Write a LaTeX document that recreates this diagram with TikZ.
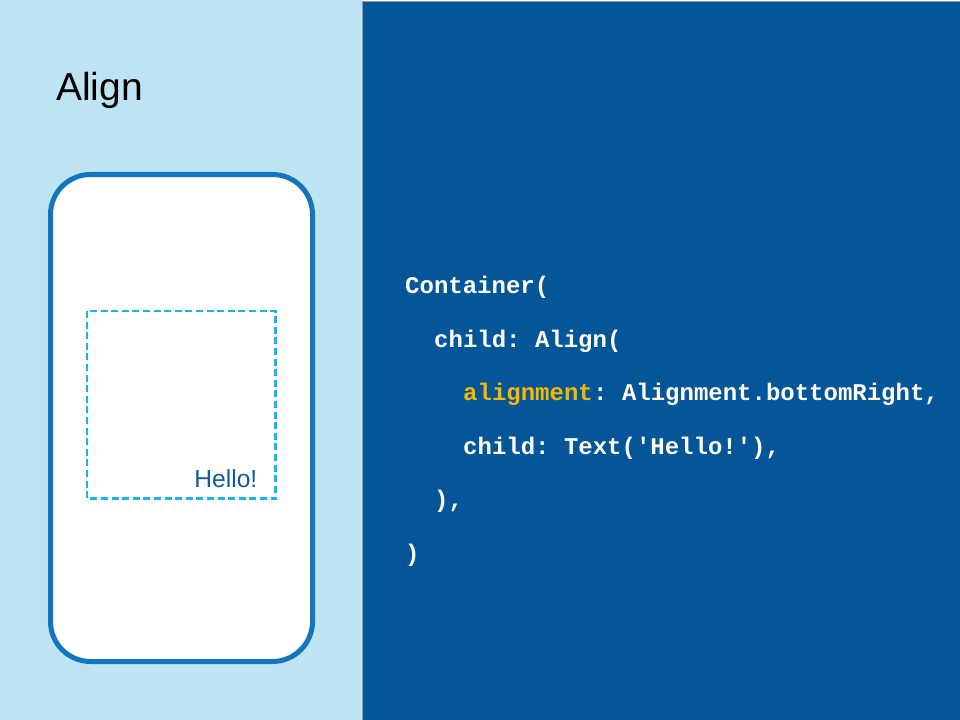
\documentclass[tikz,border=0pt]{standalone}
\usepackage{fontspec}
\setmainfont{Liberation Sans}
\setmonofont{Liberation Mono}
\usepackage{tikz}
\usetikzlibrary{positioning}
\definecolor{alignsky}{HTML}{BEE3F2}
\definecolor{aligndeep}{HTML}{045698}
\definecolor{alignphone}{HTML}{1276BF}
\definecolor{aligncyan}{HTML}{12B7F0}
\definecolor{alignhello}{HTML}{0D5CA0}
\definecolor{alignyellow}{HTML}{F5B800}
\definecolor{alignedge}{HTML}{8A9BA8}

\tikzset{
  codeline/.style={font=\fontsize{24bp}{28bp}\selectfont\ttfamily\bfseries, text=white,
    anchor=base west, inner sep=0pt},
}

\begin{document}
\begin{tikzpicture}[x=1bp, y=-1bp]
      \useasboundingbox (0,0) rectangle (960,720);
      % two panels
      \fill[alignsky] (0,0) rectangle (362,720);
      \fill[aligndeep] (362,1) rectangle (960,720);
      \draw[alignedge, line width=0.8bp] (362.4,1) -- (362.4,720) (362,1.2) -- (960,1.2);
      \node[font=\fontsize{39bp}{44bp}\selectfont, anchor=base west, inner sep=0pt] (title) at (56,101) {Align};
      % phone and aligned child
      \draw[alignphone, fill=white, line width=5bp, rounded corners=40bp]
            (50.5,174.5) rectangle (312.5,661.5);
      \draw[aligncyan, line width=2.6bp, dash pattern=on 7bp off 3.6bp]
            (87,311) rectangle (275.5,498.5);
      \node[font=\fontsize{24.6bp}{28bp}\selectfont, text=alignhello, anchor=base east, inner sep=0pt]
            (hello) at (257.5,487.5) {Hello!};
      % code
      \node[codeline] (c1) at (405,293) {Container(};
      \node[codeline] (c2) at (434,347) {child: Align(};
      \node[codeline, text=alignyellow] (c3) at (463,400) {alignment};
      \node[codeline] (c3b) at (c3.base east) {: Alignment.bottomRight,};
      \node[codeline] (c4) at (463,454) {child: Text('Hello!'),};
      \node[codeline] (c5) at (434,507) {),};
      \node[codeline] (c6) at (405,561) {)};
    \end{tikzpicture}
\end{document}
